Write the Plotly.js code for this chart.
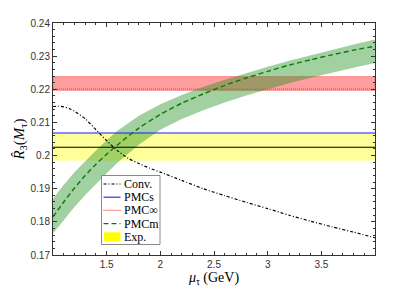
<!DOCTYPE html>
<html><head><meta charset="utf-8">
<script src="https://cdn.plot.ly/plotly-3.0.1.min.js"></script>
<style>html,body{margin:0;padding:0;background:#fff;} #chart{width:415px;height:287px;}</style>
</head><body><div id="chart"></div>
<script>
// ---- data ----
const muBand     = [1.0, 1.1, 1.2, 1.3, 1.4, 1.5, 1.6, 1.8, 2.0, 2.2, 2.4, 2.6, 2.8, 3.0, 3.2, 3.4, 3.6, 3.8, 4.0];
const pmcmCenter = [0.1815,0.1860,0.1902,0.1940,0.1974,0.2004,0.2032,0.2083,0.2124,0.2158,0.2186,0.2212,0.2234,0.2254,0.2273,0.2289,0.2304,0.2318,0.2330];
const pmcmUpper  = [0.1870,0.1912,0.1950,0.1984,0.2015,0.2046,0.2075,0.2120,0.2155,0.2183,0.2208,0.2229,0.2249,0.2268,0.2286,0.2303,0.2320,0.2335,0.2350];
const pmcmLower  = [0.1765,0.1806,0.1845,0.1881,0.1915,0.1947,0.1978,0.2033,0.2078,0.2110,0.2137,0.2160,0.2181,0.2200,0.2218,0.2235,0.2251,0.2265,0.2279];
const muConv     = [1.0, 1.05, 1.1, 1.15, 1.2, 1.3, 1.4, 1.5, 1.6, 1.7, 1.8, 1.9, 2.0, 2.2, 2.4, 2.6, 2.8, 3.0, 3.2, 3.4, 3.6, 3.8, 4.0];
const convValues = [0.2148,0.2149,0.2147,0.2142,0.2134,0.2111,0.2078,0.2045,0.2015,0.1992,0.1976,0.1962,0.1950,0.1925,0.1900,0.1879,0.1859,0.1840,0.1820,0.1802,0.1785,0.1769,0.1752];
const muEnds = [1.0, 4.0];
const pmcsValue = 0.2068;
const pmcInfValue = 0.2201, pmcInfLow = 0.2197, pmcInfHigh = 0.2238;
const expValue = 0.2025, expLow = 0.1984, expHigh = 0.2067;
const xTickVals = [1.5, 2, 2.5, 3, 3.5];
const xTickText = ['1.5', '2', '2.5', '3', '3.5'];
const yTickVals = [0.17, 0.18, 0.19, 0.20, 0.21, 0.22, 0.23, 0.24];
const yTickText = ['0.17', '0.18', '0.19', '0.2', '0.21', '0.22', '0.23', '0.24'];
const legendLabels = ['Conv.', 'PMCs', 'PMC∞', 'PMCm', 'Exp.'];

// ---- styles ----
const serif = 'Liberation Serif, Times New Roman, serif';
const sans = 'Liberation Sans, Arial, sans-serif';
const styles = {
  conv: {color: '#000000', width: 1.2, dash: '3px,2px,1px,2px'},
  pmcs: {color: '#1a1aff', width: 1.1},
  pmcinf: {color: '#ff4040', width: 1.1, dash: '1px,1px'},
  pmcm: {color: '#0c7a0c', width: 1.4, dash: '5px,3px'},
  expLine: {color: '#000000', width: 1.1},
  expFill: 'rgba(255,255,0,0.40)',
  infFill: 'rgba(255,40,40,0.45)',
  mFill: 'rgba(30,145,30,0.42)'
};

function rev(a){ return a.slice().reverse(); }

const traces = [
  {x: [muEnds[0], muEnds[1], muEnds[1], muEnds[0]], y: [expLow, expLow, expHigh, expHigh],
   mode: 'lines', fill: 'toself', fillcolor: styles.expFill, line: {width: 0}, hoverinfo: 'skip', showlegend: false},
  {x: [muEnds[0], muEnds[1], muEnds[1], muEnds[0], muEnds[0]], y: [pmcInfLow, pmcInfLow, pmcInfHigh, pmcInfHigh, pmcInfLow],
   mode: 'lines', fill: 'toself', fillcolor: styles.infFill, line: {width: 0.8, color: 'rgba(255,70,70,0.75)'}, hoverinfo: 'skip', showlegend: false},
  {x: muBand.concat(rev(muBand)), y: pmcmUpper.concat(rev(pmcmLower)),
   mode: 'lines', fill: 'toself', fillcolor: styles.mFill, line: {width: 0}, hoverinfo: 'skip', showlegend: false},
  {x: muEnds, y: [expValue, expValue], mode: 'lines', line: styles.expLine, showlegend: false},
  {x: muEnds, y: [pmcsValue, pmcsValue], mode: 'lines', line: styles.pmcs, showlegend: false},
  {x: muEnds, y: [pmcInfValue, pmcInfValue], mode: 'lines', line: styles.pmcinf, showlegend: false},
  {x: muConv, y: convValues, mode: 'lines', line: Object.assign({shape: 'spline', smoothing: 0.6}, styles.conv), showlegend: false},
  {x: muBand, y: pmcmCenter, mode: 'lines', line: Object.assign({shape: 'spline', smoothing: 0.6}, styles.pmcm), showlegend: false}
];

// ---- manual legend (layout decoration) ----
const plotL = 53, plotR = 375, plotT = 23, plotB = 255;
const W = 415, H = 287;
function pX(px){ return (px - plotL) / (plotR - plotL); }
function pY(py){ return (plotB - py) / (plotB - plotT); }
const legBox = {x0: 101.5, x1: 160, y0: 175.5, y1: 244.5};
const legRow0 = 184, legRowStep = 13.2, legLineX0 = 103.5, legLineX1 = 120.5, legTextX = 121.5;
const legLineStyles = [styles.conv, styles.pmcs, styles.pmcinf, styles.pmcm];

const shapes = [{type: 'rect', xref: 'paper', yref: 'paper', x0: pX(legBox.x0), x1: pX(legBox.x1), y0: pY(legBox.y1), y1: pY(legBox.y0),
  line: {color: '#8a8a8a', width: 1}, fillcolor: '#ffffff', layer: 'above'}];
const annotations = [];
legendLabels.forEach((lab, i) => {
  const yy = legRow0 + i * legRowStep;
  if (i < legLineStyles.length) {
    const st = legLineStyles[i];
    shapes.push({type: 'line', xref: 'paper', yref: 'paper', x0: pX(legLineX0), x1: pX(legLineX1), y0: pY(yy), y1: pY(yy),
      line: {color: st.color, width: st.width, dash: st.dash || 'solid'}, layer: 'above'});
  } else {
    shapes.push({type: 'rect', xref: 'paper', yref: 'paper', x0: pX(legLineX0 + 0.5), x1: pX(legLineX1), y0: pY(yy + 4.5), y1: pY(yy - 4.5),
      line: {width: 0}, fillcolor: '#ffff00', layer: 'above'});
  }
  annotations.push({xref: 'paper', yref: 'paper', x: pX(legTextX), y: pY(yy), xanchor: 'left', yanchor: 'middle',
    text: lab, showarrow: false, font: {family: serif, size: 12, color: '#000'}});
});

const axisCommon = {
  showgrid: false, zeroline: false, showline: true, linecolor: '#333', linewidth: 1,
  mirror: 'ticks', ticks: 'inside', ticklen: 4, tickwidth: 1, tickcolor: '#333',
  tickfont: {family: sans, size: 10, color: '#333'}
};

const layout = {
  width: W, height: H,
  margin: {l: plotL, r: W - plotR, t: plotT, b: H - plotB, pad: 0},
  paper_bgcolor: '#fff', plot_bgcolor: '#fff',
  showlegend: false,
  xaxis: Object.assign({}, axisCommon, {
    range: [1, 4], tickmode: 'array', tickvals: xTickVals, ticktext: xTickText,
    minor: {tick0: 1, dtick: 0.1, ticks: 'inside', ticklen: 2, tickcolor: '#333', showgrid: false},
    title: {text: '<i>μ</i><sub>τ</sub> (GeV)', font: {family: serif, size: 14, color: '#000'}, standoff: 3}
  }),
  yaxis: Object.assign({}, axisCommon, {
    range: [0.17, 0.24], tickmode: 'array', tickvals: yTickVals, ticktext: yTickText,
    minor: {tick0: 0.17, dtick: 0.002, ticks: 'inside', ticklen: 2, tickcolor: '#333', showgrid: false},
    title: {text: '<i>R\u0302</i><sub>3</sub>(<i>M</i><sub>τ</sub>)', font: {family: serif, size: 15, color: '#000'}, standoff: 2}
  }),
  shapes: shapes,
  annotations: annotations
};

Plotly.newPlot('chart', traces, layout, {staticPlot: true, displayModeBar: false});
</script></body></html>
